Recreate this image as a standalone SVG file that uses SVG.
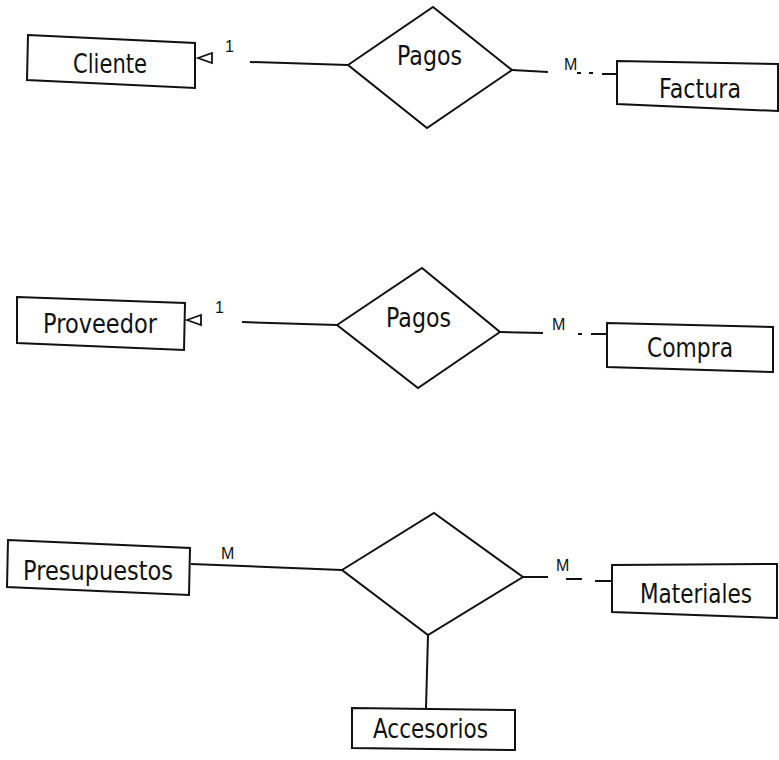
<svg xmlns="http://www.w3.org/2000/svg" width="779" height="760" viewBox="0 0 779 760">
  <style>
    .shape { fill: #fff; stroke: #111; stroke-width: 2; stroke-linejoin: miter; }
    .link { fill: none; stroke: #111; stroke-width: 2; }
    .label { font-family: "DejaVu Sans", "Liberation Sans", sans-serif; font-size: 26px; fill: #111; }
    .card { font-family: "Liberation Sans", "DejaVu Sans", sans-serif; font-size: 16px; fill: #111; }
    .tri { fill: #fff; stroke: #111; stroke-width: 1.8; stroke-linejoin: miter; }
  </style>
  <defs>
    <!-- hollow arrowhead, tip at the origin, pointing left -->
    <path id="open-tri" class="tri" d="M0,0 L14,-5 L14,5 Z"/>
  </defs>

  <rect width="779" height="760" fill="#fff"/>

  <!-- connectors -->
  <g id="connectors">
    <!-- Cliente - Pagos - Factura -->
    <use href="#open-tri" x="198" y="58"/>
    <text class="card" x="225" y="52">1</text>
    <path class="link" d="M250,62 L348,65"/>
    <path class="link" d="M512,70 L548,72"/>
    <text class="card" x="564" y="70">M</text>
    <path class="link" d="M577,73 L581,73 M589,73 L593,73"/>
    <path class="link" d="M602,74 L617,74"/>

    <!-- Proveedor - Pagos - Compra -->
    <use href="#open-tri" x="187" y="320"/>
    <text class="card" x="215" y="313">1</text>
    <path class="link" d="M242,322 L337,325"/>
    <path class="link" d="M500,332 L543,333"/>
    <text class="card" x="552" y="330">M</text>
    <path class="link" d="M578,334 L582,334"/>
    <path class="link" d="M591,334 L607,334"/>

    <!-- Presupuestos - relation - Materiales / Accesorios -->
    <path class="link" d="M191,564 L342,570"/>
    <text class="card" x="221" y="559">M</text>
    <path class="link" d="M523,577 L548,577"/>
    <text class="card" x="556" y="571">M</text>
    <path class="link" d="M566,579 L582,579"/>
    <path class="link" d="M595,581 L612,581"/>
    <path class="link" d="M428,635 L426,708"/>
  </g>

  <!-- entities -->
  <g id="cliente">
    <polygon class="shape" points="28,35 195,43 195,88 27,80"/>
    <text class="label" x="73" y="73" textLength="74" lengthAdjust="spacingAndGlyphs">Cliente</text>
  </g>
  <g id="factura">
    <polygon class="shape" points="617,61 778,64 778,111 617,104"/>
    <text class="label" x="659" y="98" textLength="82" lengthAdjust="spacingAndGlyphs">Factura</text>
  </g>
  <g id="proveedor">
    <polygon class="shape" points="17,297 185,303 184,350 17,343"/>
    <text class="label" x="43" y="333" textLength="114" lengthAdjust="spacingAndGlyphs">Proveedor</text>
  </g>
  <g id="compra">
    <polygon class="shape" points="607,323 773,327 773,372 607,367"/>
    <text class="label" x="647" y="357" textLength="86" lengthAdjust="spacingAndGlyphs">Compra</text>
  </g>
  <g id="presupuestos">
    <polygon class="shape" points="8,540 190,548 189,595 7,587"/>
    <text class="label" x="23" y="580" textLength="150" lengthAdjust="spacingAndGlyphs">Presupuestos</text>
  </g>
  <g id="materiales">
    <polygon class="shape" points="612,565 777,564 777,618 612,612"/>
    <text class="label" x="640" y="603" textLength="112" lengthAdjust="spacingAndGlyphs">Materiales</text>
  </g>
  <g id="accesorios">
    <polygon class="shape" points="352,708 515,710 515,750 352,748"/>
    <text class="label" x="373" y="738" textLength="115" lengthAdjust="spacingAndGlyphs">Accesorios</text>
  </g>

  <!-- relationships -->
  <g id="pagos-cliente">
    <polygon class="shape" points="348,65 433,7 512,70 427,128"/>
    <text class="label" x="397" y="65" textLength="65" lengthAdjust="spacingAndGlyphs">Pagos</text>
  </g>
  <g id="pagos-proveedor">
    <polygon class="shape" points="337,325 422,268 500,332 418,388"/>
    <text class="label" x="386" y="327" textLength="65" lengthAdjust="spacingAndGlyphs">Pagos</text>
  </g>
  <g id="presupuesto-materiales">
    <polygon class="shape" points="342,570 434,513 523,577 428,635"/>
  </g>
</svg>
